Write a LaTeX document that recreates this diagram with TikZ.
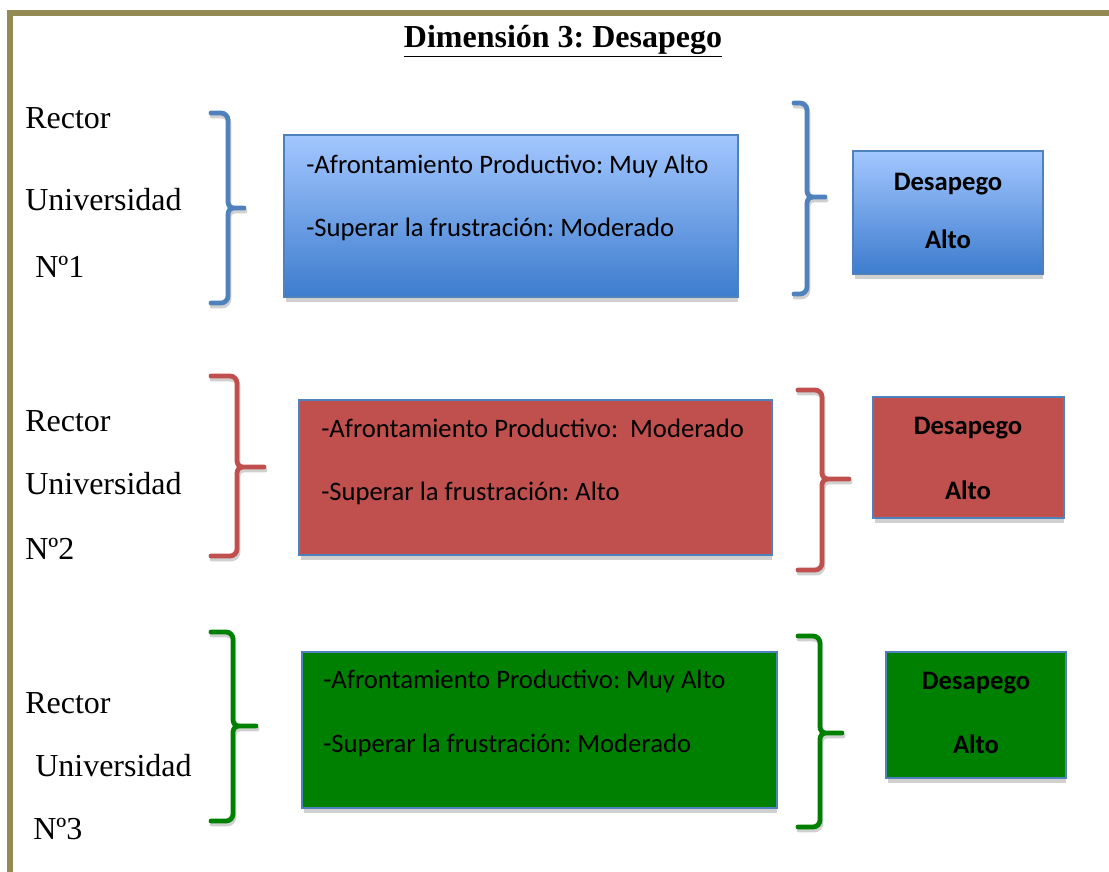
\documentclass[tikz,border=0pt]{standalone}
\usepackage{fontspec}
\setmainfont{Liberation Serif}
\newfontfamily\boxfont{Carlito}
\usetikzlibrary{fit}
\frenchspacing

\definecolor{frameolive}{HTML}{948A54}
\definecolor{accblue}{HTML}{4F81BD}
\definecolor{accred}{HTML}{C0504D}
\definecolor{accgreen}{HTML}{008000}
\definecolor{shadowgray}{HTML}{D0D0D0}
\definecolor{gradtop}{HTML}{A3C7FF}
\definecolor{gradbot}{HTML}{3D7CCE}

\tikzset{
  panel/.style={draw=accblue, line width=1.1pt, inner sep=0pt},
  bluepanel/.style={panel, top color=gradtop, bottom color=gradbot},
  redpanel/.style={panel, fill=accred},
  greenpanel/.style={panel, fill=accgreen},
  label/.style={anchor=base west, inner sep=0pt, font=\fontsize{24}{28}\selectfont},
  item/.style={anchor=base west, inner sep=0pt, font=\boxfont\fontsize{20}{24}\selectfont},
  result/.style={anchor=base, inner sep=0pt, font=\boxfont\bfseries\fontsize{20}{24}\selectfont},
  bracestroke/.style={line width=3.6pt, line cap=round, line join=round},
}

% box with a soft grey shadow along its lower edge
\newcommand\shadedbox[6]{%
  \fill[shadowgray] (#2+2,#3+5) rectangle (#4,#5+5);
  \node[#6, fit={(#2,#3) (#4,#5)}] (#1) {};
}

% curly bracket opening to the left: end x, spine x, top, middle, bottom, tip x
\newcommand\curlypath[6]{%
  (#1,#3) -- (#2-7,#3) to[out=0,in=90] (#2,#3+7) -- (#2,#4-6)
  to[out=-90,in=180] (#2+6,#4) -- (#6,#4)
  (#2+6,#4) to[out=180,in=90] (#2,#4+6) -- (#2,#5-7)
  to[out=-90,in=0] (#2-7,#5) -- (#1,#5)}
\newcommand\curly[7]{%
  \draw[bracestroke, shadowgray, shift={(1,3)}] \curlypath{#2}{#3}{#4}{#5}{#6}{#7};
  \draw[bracestroke, #1] \curlypath{#2}{#3}{#4}{#5}{#6}{#7};
}

\begin{document}
\begin{tikzpicture}[x=0.75pt, y=-0.75pt]
\useasboundingbox (0,0) rectangle (1109,871);
\clip (0,0) rectangle (1109,871);

% page frame
\draw[frameolive, line width=4.5pt] (10,900) -- (10,13) -- (1130,13);

% heading
\node[anchor=base, inner sep=0pt, font=\bfseries\fontsize{24}{28}\selectfont] (title) at (563,47) {\underline{Dimensión 3: Desapego}};

% ---------- row 1 ----------
\node[label] (r1a) at (25,128) {Rector};
\node[label] (r1b) at (25,210) {Universidad};
\node[label] (r1c) at (35,277) {Nº1};
\curly{accblue}{211}{228}{113}{208}{303}{244}
\shadedbox{b1}{284}{135}{738}{297}{bluepanel}
\node[item] (b1a) at (306,173) {-Afrontamiento Productivo: Muy Alto};
\node[item] (b1b) at (306,236) {-Superar la frustración: Moderado};
\curly{accblue}{794}{807}{103}{197}{294}{825}
\shadedbox{c1}{853}{151}{1043}{274}{bluepanel}
\node[result] (c1a) at (948,190) {Desapego};
\node[result] (c1b) at (948,248) {Alto};

% ---------- row 2 ----------
\node[label] (r2a) at (25,431) {Rector};
\node[label] (r2b) at (25,494) {Universidad};
\node[label] (r2c) at (25,559) {Nº2};
\curly{accred}{211}{237}{376}{467}{556}{264}
\shadedbox{b2}{299}{400}{772}{555}{redpanel}
\node[item] (b2a) at (321,437) {-Afrontamiento Productivo:\ \ Moderado};
\node[item] (b2b) at (321,500) {-Superar la frustración: Alto};
\curly{accred}{798}{822}{390}{479}{570}{849}
\shadedbox{c2}{873}{397}{1064}{518}{redpanel}
\node[result] (c2a) at (968,434) {Desapego};
\node[result] (c2b) at (968,499) {Alto};

% ---------- row 3 ----------
\node[label] (r3a) at (25,713) {Rector};
\node[label] (r3b) at (35,776) {Universidad};
\node[label] (r3c) at (33,839) {Nº3};
\curly{accgreen}{211}{233}{632}{726}{821}{256}
\shadedbox{b3}{302}{652}{777}{808}{greenpanel}
\node[item] (b3a) at (323,688) {-Afrontamiento Productivo: Muy Alto};
\node[item] (b3b) at (323,752) {-Superar la frustración: Moderado};
\curly{accgreen}{798}{820}{636}{733}{827}{842}
\shadedbox{c3}{886}{652}{1066}{778}{greenpanel}
\node[result] (c3a) at (976,689) {Desapego};
\node[result] (c3b) at (976,753) {Alto};
\end{tikzpicture}
\end{document}
